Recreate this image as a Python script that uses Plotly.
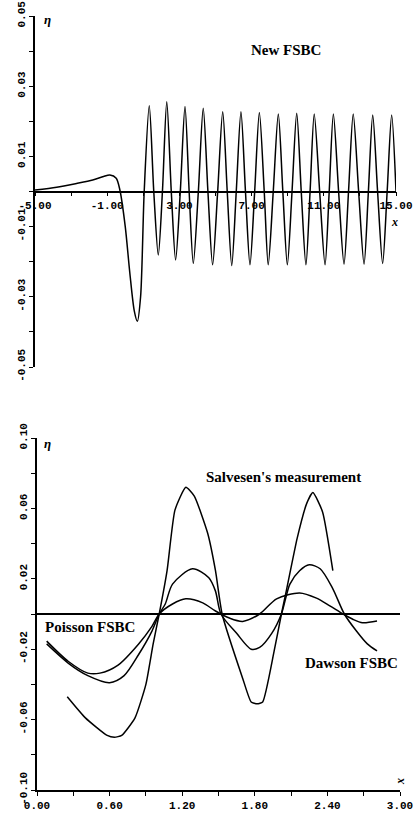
import plotly.graph_objects as go

# ---------------- Top panel: New FSBC ----------------
top_x = [-5.0, -3.8, -2.7, -1.8, -1.2, -0.85, -0.5, -0.3, 0.0, 0.25, 0.5, 0.67, 0.85, 1.05,
         1.33, 1.58, 1.83, 2.06, 2.30, 2.55, 2.79, 3.05, 3.31, 3.54, 3.77, 4.05, 4.32, 4.58,
         4.84, 5.12, 5.40, 5.65, 5.90, 6.15, 6.41, 6.66, 6.91, 7.17, 7.43, 7.70, 7.92, 8.20,
         8.48, 8.73, 8.98, 9.24, 9.50, 9.75, 10.01, 10.24, 10.47, 10.77, 11.07, 11.30, 11.53,
         11.82, 12.12, 12.37, 12.63, 12.93, 13.23, 13.47, 13.71, 13.98, 14.26, 14.51, 14.76, 15.0]
top_y = [0.0004, 0.0012, 0.0023, 0.0033, 0.0043, 0.0047, 0.0038, 0.0005, -0.010, -0.023, -0.034, -0.037, -0.030, 0.0,
         0.0244, 0.0, -0.0181, 0.0, 0.0256, 0.0, -0.0195, 0.0, 0.0242, 0.0, -0.0205, 0.0, 0.0237, 0.0,
         -0.0209, 0.0, 0.0227, 0.0, -0.0211, 0.0, 0.0227, 0.0, -0.0209, 0.0, 0.0225, 0.0, -0.0209, 0.0,
         0.0221, 0.0, -0.0209, 0.0, 0.0223, 0.0, -0.0209, 0.0, 0.0221, 0.0, -0.0209, 0.0, 0.0221,
         0.0, -0.0207, 0.0, 0.0221, 0.0, -0.0207, 0.0, 0.0218, 0.0, -0.0205, 0.0, 0.0218, 0.0]

top_xtick_vals = [-5, -3, -1, 1, 3, 5, 7, 9, 11, 13, 15]
top_xtick_text = ["-5.00", "", "-1.00", "", "3.00", "", "7.00", "", "11.00", "", "15.00"]
top_ytick_vals = [-0.05, -0.04, -0.03, -0.02, -0.01, 0.0, 0.01, 0.02, 0.03, 0.04, 0.05]
top_ytick_text = ["-0.05", "", "-0.03", "", "-0.01", "", "0.01", "", "0.03", "", "0.05"]

# ---------------- Bottom panel: comparison ----------------
salv_x = [0.25, 0.40, 0.58, 0.64, 0.70, 0.81, 0.90, 0.96, 1.01, 1.075, 1.14, 1.23, 1.30, 1.41,
          1.475, 1.53, 1.70, 1.77, 1.82, 1.865, 1.96, 2.02, 2.06, 2.15, 2.23, 2.28, 2.36, 2.445]
salv_y = [-0.047, -0.059, -0.069, -0.070, -0.069, -0.059, -0.040, -0.017, 0.0, 0.0246, 0.059, 0.072, 0.067, 0.046,
          0.0246, 0.0, -0.0366, -0.050, -0.051, -0.050, -0.021, 0.0, 0.013, 0.043, 0.063, 0.069, 0.058, 0.0246]

dawson_x = [0.08, 0.26, 0.42, 0.60, 0.72, 0.84, 0.95, 1.01, 1.06, 1.12, 1.285, 1.42, 1.475, 1.52, 1.65,
            1.77, 1.84, 1.94, 2.02, 2.09, 2.17, 2.25, 2.34, 2.44, 2.54, 2.64, 2.73, 2.81]
dawson_y = [-0.017, -0.028, -0.035, -0.039, -0.035, -0.023, -0.0097, 0.0, 0.0057, 0.017, 0.0257, 0.0206, 0.013, 0.0, -0.011,
            -0.020, -0.019, -0.011, 0.0, 0.017, 0.0246, 0.028, 0.0257, 0.015, 0.0, -0.0097, -0.017, -0.021]

poisson_x = [0.08, 0.26, 0.42, 0.52, 0.67, 0.84, 0.95, 1.01, 1.12, 1.23, 1.37, 1.475, 1.59, 1.70,
             1.84, 1.98, 2.17, 2.31, 2.42, 2.53, 2.61, 2.69, 2.81]
poisson_y = [-0.0154, -0.027, -0.0336, -0.0336, -0.029, -0.017, -0.007, 0.0, 0.0057, 0.0086, 0.0063, 0.0017, -0.0023, -0.0042,
             0.0, 0.0086, 0.012, 0.009, 0.0046, 0.0, -0.003, -0.005, -0.004]

bot_xtick_vals = [0.0, 0.3, 0.6, 0.9, 1.2, 1.5, 1.8, 2.1, 2.4, 2.7, 3.0]
bot_xtick_text = ["0.00", "", "0.60", "", "1.20", "", "1.80", "", "2.40", "", "3.00"]
bot_ytick_vals = [-0.10, -0.08, -0.06, -0.04, -0.02, 0.0, 0.02, 0.04, 0.06, 0.08, 0.10]
bot_ytick_text = ["-0.10", "", "-0.06", "", "-0.02", "", "0.02", "", "0.06", "", "0.10"]

W, H = 416, 814
top_xdom = [35 / W, 396 / W]
top_ydom = [1 - 367 / H, 1 - 16 / H]
bot_xdom = [37 / W, 400 / W]
bot_ydom = [1 - 790 / H, 1 - 438 / H]

line_style = dict(color="black", width=1.5, shape="spline", smoothing=0.8)
salv_style = dict(color="black", width=1.5, shape="spline", smoothing=0.5)

fig = go.Figure()
fig.add_trace(go.Scatter(x=top_x, y=top_y, mode="lines", line=line_style,
                         xaxis="x", yaxis="y", showlegend=False, hoverinfo="skip"))
for xs, ys, st in [(salv_x, salv_y, salv_style), (dawson_x, dawson_y, line_style),
                   (poisson_x, poisson_y, line_style)]:
    fig.add_trace(go.Scatter(x=xs, y=ys, mode="lines", line=st,
                             xaxis="x2", yaxis="y2", showlegend=False, hoverinfo="skip"))

tickfont = dict(family="Liberation Mono", size=11, color="black", weight="bold")
axis_common = dict(showgrid=False, showline=True, linecolor="black", linewidth=1.5,
                   ticks="outside", ticklen=4, tickwidth=1.2, tickcolor="black",
                   tickfont=tickfont, automargin=False, fixedrange=True)

fig.update_layout(
    width=W, height=H, autosize=False,
    margin=dict(l=0, r=0, t=0, b=0),
    paper_bgcolor="white", plot_bgcolor="white",
    xaxis=dict(domain=top_xdom, range=[-5, 15], anchor="free",
               position=(top_ydom[0] + top_ydom[1]) / 2,
               tickmode="array", tickvals=top_xtick_vals, ticktext=top_xtick_text,
               zeroline=False, **axis_common),
    yaxis=dict(domain=top_ydom, range=[-0.05, 0.05], anchor="x",
               tickmode="array", tickvals=top_ytick_vals, ticktext=top_ytick_text,
               tickangle=-90, zeroline=False, **axis_common),
    xaxis2=dict(domain=bot_xdom, range=[0, 3], anchor="y2",
                tickmode="array", tickvals=bot_xtick_vals, ticktext=bot_xtick_text,
                zeroline=False, **axis_common),
    yaxis2=dict(domain=bot_ydom, range=[-0.10, 0.10], anchor="x2",
                tickmode="array", tickvals=bot_ytick_vals, ticktext=bot_ytick_text,
                tickangle=-90, zeroline=True, zerolinecolor="black", zerolinewidth=2,
                **axis_common),
)

serif = dict(family="Liberation Serif", size=15, color="black")
ann = [
    dict(x=8.9, y=0.0403, xref="x", yref="y", text="<b>New FSBC</b>", font=serif),
    dict(x=2.04, y=0.0778, xref="x2", yref="y2", text="<b>Salvesen's measurement</b>", font=serif),
    dict(x=0.44, y=-0.0074, xref="x2", yref="y2", text="<b>Poisson FSBC</b>", font=serif),
    dict(x=2.60, y=-0.0278, xref="x2", yref="y2", text="<b>Dawson FSBC</b>", font=serif),
    dict(x=-4.33, y=0.0489, xref="x", yref="y", text="<b><i>η</i></b>",
         font=dict(family="Liberation Serif", size=13, color="black")),
    dict(x=0.083, y=0.097, xref="x2", yref="y2", text="<b><i>η</i></b>",
         font=dict(family="Liberation Serif", size=13, color="black")),
    dict(x=14.94, y=-0.0087, xref="x", yref="y", text="<b><i>x</i></b>",
         font=dict(family="Liberation Serif", size=12, color="black")),
    dict(x=3.0, y=-0.0955, xref="x2", yref="y2", text="<b><i>x</i></b>", textangle=-90,
         font=dict(family="Liberation Serif", size=12, color="black")),
]
for a in ann:
    a.update(showarrow=False, xanchor="center", yanchor="middle")
fig.update_layout(annotations=ann)

fig.write_html(
    "out.html",
    config={"displayModeBar": False},
    post_script="document.body.style.margin='0';document.body.style.overflow='hidden';",
)
